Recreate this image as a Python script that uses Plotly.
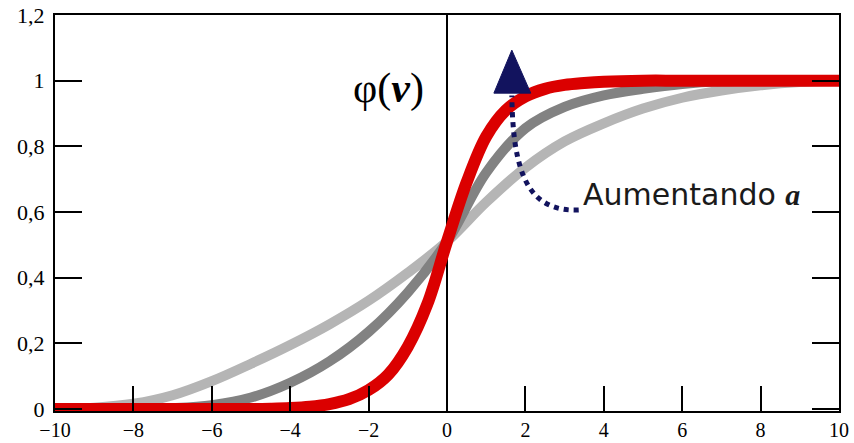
import plotly.graph_objects as go

# ---- data ----
x_light = [-10, -9, -8, -7, -6, -5, -4, -3, -2, -1, 0, 1, 2, 3, 4, 5, 6, 7, 8, 9, 10]
y_light = [0, 0.004, 0.016, 0.042, 0.085, 0.138, 0.195, 0.258, 0.33, 0.415, 0.51,
           0.63, 0.735, 0.815, 0.87, 0.915, 0.948, 0.97, 0.986, 0.996, 1.0]

x_dark = [-10, -8, -7, -6, -5, -4, -3, -2, -1, 0, 1, 2, 3, 4, 5, 6, 7, 8, 10]
y_dark = [0, 0, 0.003, 0.012, 0.035, 0.08, 0.145, 0.235, 0.355, 0.51,
          0.72, 0.855, 0.92, 0.955, 0.975, 0.99, 0.998, 1.0, 1.0]

x_red = [-10, -6, -5, -4.5, -4, -3.5, -3, -2.5, -2, -1.5, -1, -0.5, 0, 0.5, 1, 1.5,
         2, 2.5, 3, 3.5, 4, 5, 6, 10]
y_red = [0, 0, 0, 0.001, 0.003, 0.007, 0.015, 0.03, 0.058, 0.105, 0.19, 0.32, 0.51,
         0.69, 0.83, 0.91, 0.952, 0.975, 0.987, 0.993, 0.997, 1.0, 1.0, 1.0]

x_ticks = [-10, -8, -6, -4, -2, 0, 2, 4, 6, 8, 10]
y_ticks = [0, 0.2, 0.4, 0.6, 0.8, 1, 1.2]

fig = go.Figure()
fig.add_trace(go.Scatter(x=x_light, y=y_light, mode="lines",
                         line=dict(color="#b5b5b5", width=10, shape="spline"),
                         hoverinfo="skip", showlegend=False))
fig.add_trace(go.Scatter(x=x_dark, y=y_dark, mode="lines",
                         line=dict(color="#828282", width=10, shape="spline"),
                         hoverinfo="skip", showlegend=False))
fig.add_trace(go.Scatter(x=x_red, y=y_red, mode="lines",
                         line=dict(color="#db0000", width=12, shape="spline"),
                         hoverinfo="skip", showlegend=False))

navy = "#12135e"
# dotted curved arrow
fig.add_shape(type="path", xref="x", yref="y",
              path="M 3.36 0.606 C 2.09 0.600, 1.68 0.713, 1.654 0.955",
              line=dict(color=navy, width=5, dash="dot"))
fig.add_shape(type="path", xref="x", yref="y",
              path="M 1.654 1.093 L 1.196 0.962 L 2.137 0.962 Z",
              fillcolor=navy, line=dict(color=navy, width=1))

fig.add_annotation(x=-1.48, y=0.977, xref="x", yref="y", showarrow=False,
                   text="φ(<b><i>v</i></b>)",
                   font=dict(family="Liberation Serif", size=42, color="black"))
fig.add_annotation(x=3.43, y=0.652, xref="x", yref="y", showarrow=False,
                   xanchor="left", yanchor="middle",
                   text="Aumentando <span style=\"font-family:'Liberation Serif'\"><b><i>a</i></b></span>",
                   font=dict(family="DejaVu Sans", size=30, color="#1a1a1a"))

fig.update_xaxes(range=[-10, 10], tickvals=x_ticks, ticks="inside", ticklen=25,
                 tickwidth=2, tickcolor="black", showline=True, linecolor="black",
                 linewidth=2, mirror=True, showgrid=False, automargin=False,
                 zeroline=True, zerolinecolor="black", zerolinewidth=2,
                 ticklabelstandoff=0,
                 tickfont=dict(family="Liberation Serif", size=20, color="black"))
fig.update_yaxes(range=[-0.006, 1.2], tickvals=y_ticks, ticks="inside", ticklen=27,
                 tickwidth=2, tickcolor="black", showline=True, linecolor="black",
                 linewidth=2, mirror="ticks", showgrid=False, zeroline=False,
                 ticklabelstandoff=4, automargin=False,
                 tickfont=dict(family="Liberation Serif", size=22, color="black"))

fig.update_layout(width=854, height=443, separators=",.",
                  margin=dict(l=55, r=15, t=15, b=32),
                  paper_bgcolor="white", plot_bgcolor="white")

fig.write_html("out.html", config={"displayModeBar": False},
               post_script="document.body.style.margin='0';document.body.style.overflow='hidden';")
